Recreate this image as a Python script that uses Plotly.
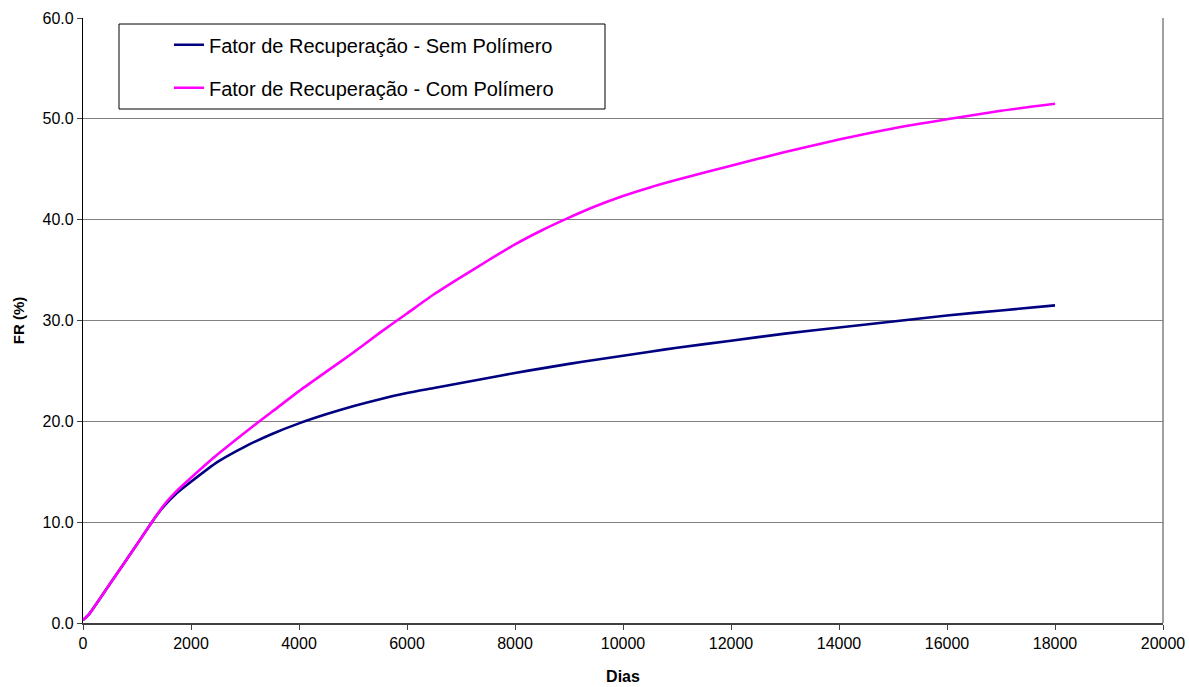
import plotly.graph_objects as go

# Days of production
dias = [0, 100, 500, 1000, 1300, 1500, 1700, 2000, 2500, 3000, 3500, 4000, 4500,
        5000, 5500, 6000, 6500, 7000, 7500, 8000, 8500, 9000, 9500, 10000, 10500,
        11000, 12000, 13000, 14000, 15000, 16000, 17000, 18000]

# Recovery factor (%) without polymer
fr_sem_polimero = [0.3, 0.8, 3.9, 7.8, 10.2, 11.6, 12.7, 14.0, 16.0, 17.5, 18.75, 19.8,
                   20.7, 21.5, 22.2, 22.8, 23.3, 23.8, 24.3, 24.8, 25.25, 25.7, 26.1,
                   26.5, 26.9, 27.3, 28.0, 28.7, 29.3, 29.9, 30.5, 31.0, 31.5]

# Recovery factor (%) with polymer
fr_com_polimero = [0.3, 0.8, 3.9, 7.8, 10.2, 11.7, 12.9, 14.4, 16.75, 18.9, 20.95, 23.0,
                   24.9, 26.8, 28.8, 30.7, 32.6, 34.3, 35.95, 37.55, 38.95, 40.2, 41.35,
                   42.35, 43.2, 43.95, 45.35, 46.7, 47.95, 49.05, 49.95, 50.8, 51.5]

nome_sem = "Fator de Recuperação - Sem Polímero"
nome_com = "Fator de Recuperação - Com Polímero"

FONT = "Liberation Sans, Arial, sans-serif"

fig = go.Figure()
fig.add_trace(go.Scatter(x=dias, y=fr_sem_polimero, mode="lines", name=nome_sem,
                         legendgroup="a",
                         line=dict(color="#000080", width=2.6, shape="spline",
                                   smoothing=0.6)))
fig.add_trace(go.Scatter(x=dias, y=fr_com_polimero, mode="lines", name=nome_com,
                         legendgroup="b",
                         line=dict(color="#FF00FF", width=2.6, shape="spline",
                                   smoothing=0.6)))

fig.update_layout(
    width=1189, height=687,
    margin=dict(l=83, r=26, t=18, b=64),
    paper_bgcolor="white", plot_bgcolor="white",
    font=dict(family=FONT, color="black"),
    showlegend=True,
    legend=dict(
        x=0.0796, y=0.988, xanchor="left", yanchor="top",
        bgcolor="rgba(0,0,0,0)", borderwidth=0,
        font=dict(family=FONT, size=20, color="black"),
        tracegroupgap=14,
    ),
    xaxis=dict(
        range=[0, 20000], dtick=2000, tick0=0, tickformat="d",
        showgrid=False, zeroline=False, automargin=False,
        showline=True, linecolor="#404040", linewidth=1.5,
        ticks="outside", ticklen=5, tickcolor="#404040",
        tickfont=dict(family=FONT, size=16, color="black"),
        title=dict(text="<b>Dias</b>", font=dict(family=FONT, size=16, color="black"),
                   standoff=20),
    ),
    yaxis=dict(
        range=[0, 60], dtick=10, tick0=0, tickformat=".1f",
        showgrid=True, gridcolor="#808080", gridwidth=1.2,
        zeroline=False, automargin=False,
        showline=True, linecolor="black", linewidth=1.2,
        ticks="outside", ticklen=5, tickcolor="#404040",
        tickfont=dict(family=FONT, size=16, color="black"),
        title=dict(text="<b>FR (%)</b>", font=dict(family=FONT, size=15, color="black"),
                   standoff=14),
    ),
    shapes=[
        # plot-area frame on the right
        dict(type="line", xref="paper", yref="paper", x0=1, x1=1, y0=0, y1=1,
             line=dict(color="#808080", width=1.5)),
        # legend frame
        dict(type="rect", xref="paper", yref="paper",
             x0=(119 - 83) / 1080, x1=(605 - 83) / 1080,
             y0=(623 - 109) / 605, y1=(623 - 24) / 605,
             line=dict(color="black", width=1), fillcolor="rgba(0,0,0,0)"),
    ],
)

fig.write_html("out.html")
